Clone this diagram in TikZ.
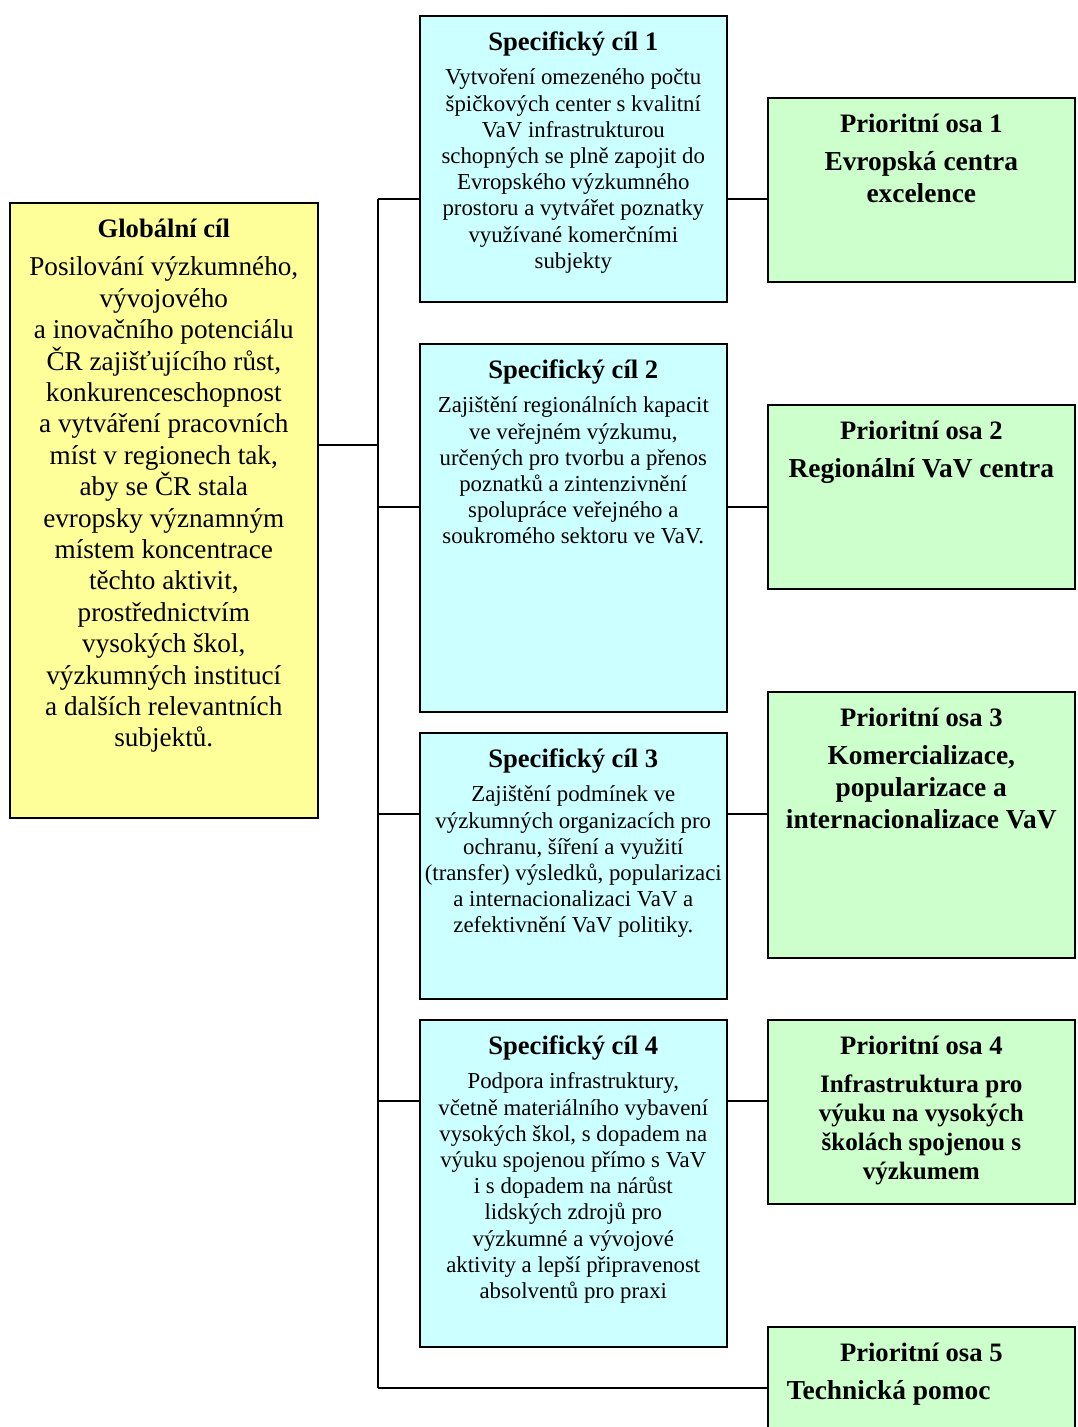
\documentclass[tikz,border=0pt]{standalone}
\usepackage{fontspec}
\setmainfont{Liberation Serif}
\usepackage{xcolor}
\usepackage{tikz}
\usetikzlibrary{positioning}

\definecolor{globyellow}{HTML}{FFFF99}
\definecolor{cilcyan}{HTML}{CCFFFF}
\definecolor{osagreen}{HTML}{CCFFCC}

\newcommand{\headfont}{\fontsize{26.6}{26.6}\selectfont\bfseries}
\newcommand{\globfont}{\fontsize{27.2}{31.4}\selectfont\mdseries}
\newcommand{\cilfont}{\fontsize{22.8}{26.2}\selectfont\mdseries}
\newcommand{\osafont}{\fontsize{27.4}{32}\selectfont\bfseries}
\newcommand{\osasmall}{\fontsize{25.1}{29}\selectfont\bfseries}

\begin{document}
\begin{tikzpicture}[
  x=1pt, y=-1pt,
  globbox/.style={draw, line width=1.6pt, fill=globyellow, inner sep=0pt, anchor=north west},
  cilbox/.style={draw, line width=1.6pt, fill=cilcyan, inner sep=0pt, anchor=north west},
  osabox/.style={draw, line width=1.6pt, fill=osagreen, inner sep=0pt, anchor=north west},
  link/.style={line width=1.6pt}
]
\clip (0,0) rectangle (1078,1427);

% global goal
\node[globbox] (glob) at (9,202) {\parbox[c][615pt][t]{308pt}{\centering
  \headfont\rule{0pt}{35pt}Globální cíl\par\vspace{6.6pt}
  \globfont Posilování výzkumného,\\ vývojového\\ a inovačního potenciálu\\
  ČR zajišťujícího růst,\\ konkurenceschopnost\\ a vytváření pracovních\\
  míst v regionech tak,\\ aby se ČR stala\\ evropsky významným\\
  místem koncentrace\\ těchto aktivit,\\ prostřednictvím\\ vysokých škol,\\
  výzkumných institucí\\ a dalších relevantních\\ subjektů.\par}};

% specific goals
\node[cilbox] (cil1) at (419,15) {\parbox[c][286pt][t]{307pt}{\centering
  \headfont\rule{0pt}{35pt}Specifický cíl 1\par\vspace{7.8pt}
  \cilfont Vytvoření omezeného počtu\\ špičkových center s kvalitní\\
  VaV infrastrukturou\\ schopných se plně zapojit do\\ Evropského výzkumného\\
  prostoru a vytvářet poznatky\\ využívané komerčními\\ subjekty\par}};
\node[cilbox] (cil2) at (419,343) {\parbox[c][368pt][t]{307pt}{\centering
  \headfont\rule{0pt}{35pt}Specifický cíl 2\par\vspace{7.8pt}
  \cilfont Zajištění regionálních kapacit\\ ve veřejném výzkumu,\\
  určených pro tvorbu a přenos\\ poznatků a zintenzivnění\\
  spolupráce veřejného a\\ soukromého sektoru ve VaV.\par}};
\node[cilbox] (cil3) at (419,732) {\parbox[c][266pt][t]{307pt}{\centering
  \headfont\rule{0pt}{35pt}Specifický cíl 3\par\vspace{7.8pt}
  \cilfont Zajištění podmínek ve\\ výzkumných organizacích pro\\
  ochranu, šíření a využití\\ (transfer) výsledků, popularizaci\\
  a internacionalizaci VaV a\\ zefektivnění VaV politiky.\par}};
\node[cilbox] (cil4) at (419,1019) {\parbox[c][327pt][t]{307pt}{\centering
  \headfont\rule{0pt}{35pt}Specifický cíl 4\par\vspace{7.8pt}
  \cilfont Podpora infrastruktury,\\ včetně materiálního vybavení\\
  vysokých škol, s dopadem na\\ výuku spojenou přímo s VaV\\
  i s dopadem na nárůst\\ lidských zdrojů pro\\ výzkumné a vývojové\\
  aktivity a lepší připravenost\\ absolventů pro praxi\par}};

% priority axes
\node[osabox] (osa1) at (767,97) {\parbox[c][184pt][t]{307pt}{\centering
  \headfont\rule{0pt}{35pt}Prioritní osa 1\par\vspace{6pt}
  \osafont Evropská centra\\ excelence\par}};
\node[osabox] (osa2) at (767,404) {\parbox[c][184pt][t]{307pt}{\centering
  \headfont\rule{0pt}{35pt}Prioritní osa 2\par\vspace{6pt}
  \osafont Regionální VaV centra\par}};
\node[osabox] (osa3) at (767,691) {\parbox[c][266pt][t]{307pt}{\centering
  \headfont\rule{0pt}{35pt}Prioritní osa 3\par\vspace{6pt}
  \osafont Komercializace,\\ popularizace a\\ internacionalizace VaV\par}};
\node[osabox] (osa4) at (767,1019) {\parbox[c][184pt][t]{307pt}{\centering
  \headfont\rule{0pt}{35pt}Prioritní osa 4\par\vspace{9pt}
  \osasmall Infrastruktura pro\\ výuku na vysokých\\ školách spojenou s\\ výzkumem\par}};
\node[osabox] (osa5) at (767,1326) {\parbox[c][130pt][t]{307pt}{\centering
  \headfont\rule{0pt}{35pt}Prioritní osa 5\par\vspace{6pt}
  \raggedright\hspace*{19pt}\osafont Technická pomoc\par}};

% trunk junctions
\coordinate (jg) at (378,445);
\coordinate (j1) at (378,199);
\coordinate (j2) at (378,507);
\coordinate (j3) at (378,814);
\coordinate (j4) at (378,1101);
\coordinate (j5) at (378,1388);

\draw[link] (j1) -- (j5);
\draw[link] (jg -| glob.east) -- (jg);
\draw[link] (j1) -- (j1 -| cil1.west);
\draw[link] (j2) -- (j2 -| cil2.west);
\draw[link] (j3) -- (j3 -| cil3.west);
\draw[link] (j4) -- (j4 -| cil4.west);
\draw[link] (j5) -- (j5 -| osa5.west);
\draw[link] (j1 -| cil1.east) -- (j1 -| osa1.west);
\draw[link] (j2 -| cil2.east) -- (j2 -| osa2.west);
\draw[link] (j3 -| cil3.east) -- (j3 -| osa3.west);
\draw[link] (j4 -| cil4.east) -- (j4 -| osa4.west);
\end{tikzpicture}
\end{document}
